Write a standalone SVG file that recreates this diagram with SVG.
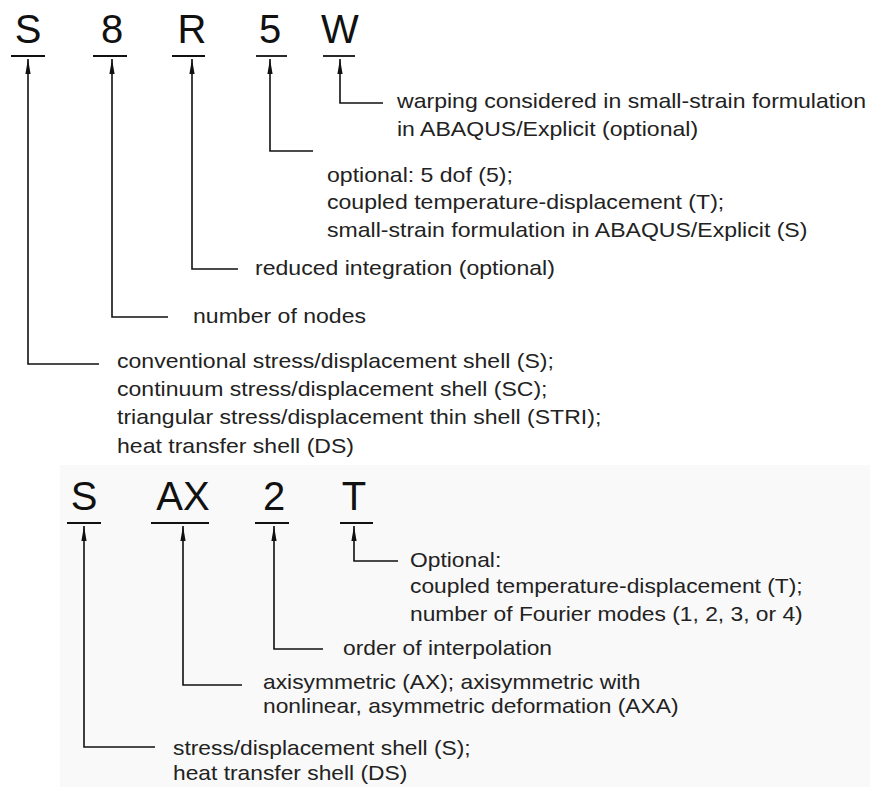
<svg xmlns="http://www.w3.org/2000/svg" width="870" height="787" viewBox="0 0 870 787">
<style>
.sym{font-family:"Liberation Sans",Arial,sans-serif;font-size:40px;fill:#111;text-anchor:middle}
.lbl{font-family:"Liberation Sans",Arial,sans-serif;font-size:20px;fill:#222}
.ul{stroke:#111;stroke-width:1.8;fill:none}
.con{stroke:#111;stroke-width:1.6;fill:none;marker-end:url(#arr)}
</style>
<defs>
<marker id="arr" markerUnits="userSpaceOnUse" markerWidth="16" markerHeight="6" viewBox="0 -3 16 6" refX="15" refY="0" orient="auto">
<path d="M0,-2.6 L15,0 L0,2.6 z" fill="#111"/>
</marker>
</defs>
<rect x="0" y="0" width="870" height="787" fill="#ffffff"/>
<rect x="60" y="465" width="810" height="322" fill="#f9f9f9"/>
<g id="connectors">
<path class="con" d="M383,103 H340 V59"/>
<path class="con" d="M313,151 H270 V59"/>
<path class="con" d="M238,269 H192 V59"/>
<path class="con" d="M168,317 H112 V59"/>
<path class="con" d="M99,364 H28 V59"/>
<path class="con" d="M398,561 H354 V526"/>
<path class="con" d="M323,649 H274 V526"/>
<path class="con" d="M242,685 H183 V526"/>
<path class="con" d="M155,747 H84 V526"/>
</g>
<g id="sym-S"><text class="sym" x="28" y="43">S</text><line class="ul" x1="11" y1="56" x2="45" y2="56"/></g>
<g id="sym-8"><text class="sym" x="112" y="43">8</text><line class="ul" x1="93" y1="56" x2="127" y2="56"/></g>
<g id="sym-R"><text class="sym" x="192" y="43">R</text><line class="ul" x1="172" y1="56" x2="205" y2="56"/></g>
<g id="sym-5"><text class="sym" x="270" y="43">5</text><line class="ul" x1="256" y1="56" x2="287" y2="56"/></g>
<g id="sym-W"><text class="sym" x="340" y="43">W</text><line class="ul" x1="323" y1="56" x2="355" y2="56"/></g>
<g id="lbl-W" transform="translate(397,108) scale(1.153,1)"><text class="lbl"><tspan x="0" y="0">warping considered in small-strain formulation</tspan><tspan x="0" y="28">in ABAQUS/Explicit (optional)</tspan></text></g>
<g id="lbl-5" transform="translate(327,182) scale(1.153,1)"><text class="lbl"><tspan x="0" y="0">optional: 5 dof (5);</tspan><tspan x="0" y="27">coupled temperature-displacement (T);</tspan><tspan x="0" y="55">small-strain formulation in ABAQUS/Explicit (S)</tspan></text></g>
<g id="lbl-R" transform="translate(255,275) scale(1.153,1)"><text class="lbl" x="0" y="0">reduced integration (optional)</text></g>
<g id="lbl-8" transform="translate(193,323) scale(1.153,1)"><text class="lbl" x="0" y="0">number of nodes</text></g>
<g id="lbl-S" transform="translate(117,368) scale(1.153,1)"><text class="lbl"><tspan x="0" y="0">conventional stress/displacement shell (S);</tspan><tspan x="0" y="28">continuum stress/displacement shell (SC);</tspan><tspan x="0" y="56">triangular stress/displacement thin shell (STRI);</tspan><tspan x="0" y="85">heat transfer shell (DS)</tspan></text></g>
<g id="sym2-S"><text class="sym" x="84" y="510">S</text><line class="ul" x1="67" y1="523" x2="101" y2="523"/></g>
<g id="sym2-AX"><text class="sym" x="183" y="510">AX</text><line class="ul" x1="151" y1="523" x2="209" y2="523"/></g>
<g id="sym2-2"><text class="sym" x="274" y="510">2</text><line class="ul" x1="255" y1="523" x2="289" y2="523"/></g>
<g id="sym2-T"><text class="sym" x="354" y="510">T</text><line class="ul" x1="340" y1="523" x2="373" y2="523"/></g>
<g id="lbl2-T" transform="translate(410,567) scale(1.14,1)"><text class="lbl"><tspan x="0" y="0">Optional:</tspan><tspan x="0" y="26">coupled temperature-displacement (T);</tspan><tspan x="0" y="54">number of Fourier modes (1, 2, 3, or 4)</tspan></text></g>
<g id="lbl2-2" transform="translate(343,655) scale(1.14,1)"><text class="lbl" x="0" y="0">order of interpolation</text></g>
<g id="lbl2-AX" transform="translate(263,689) scale(1.14,1)"><text class="lbl"><tspan x="0" y="0">axisymmetric (AX); axisymmetric with</tspan><tspan x="0" y="24">nonlinear, asymmetric deformation (AXA)</tspan></text></g>
<g id="lbl2-S" transform="translate(173,755) scale(1.14,1)"><text class="lbl"><tspan x="0" y="0">stress/displacement shell (S);</tspan><tspan x="0" y="25">heat transfer shell (DS)</tspan></text></g>
</svg>
